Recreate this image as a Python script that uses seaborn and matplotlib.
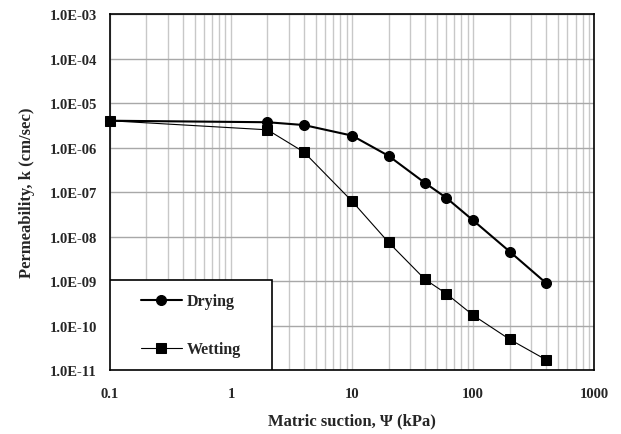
import numpy as np
import pandas as pd
import matplotlib
matplotlib.use("Agg")
import matplotlib.pyplot as plt
from matplotlib.ticker import FuncFormatter, LogLocator, NullLocator
from matplotlib.patches import Rectangle
import seaborn as sns

# Matric suction (kPa) and permeability (cm/sec) for drying and wetting paths
drying_suction = [0.1, 2, 4, 10, 20, 40, 60, 100, 200, 400]
drying_k = [4.0e-6, 3.7e-6, 3.2e-6, 1.85e-6, 6.5e-7, 1.6e-7, 7.4e-8, 2.3e-8, 4.6e-9, 9.0e-10]

wetting_suction = [0.1, 2, 4, 10, 20, 40, 60, 100, 200, 400]
wetting_k = [4.0e-6, 2.5e-6, 7.9e-7, 6.2e-8, 7.4e-9, 1.09e-9, 5.2e-10, 1.7e-10, 4.9e-11, 1.7e-11]

series_names = ["Drying", "Wetting"]
x_ticks = [0.1, 1, 10, 100, 1000]

sns.set_style("white")
plt.rcParams["font.family"] = ["Liberation Serif", "DejaVu Serif"]
plt.rcParams["font.weight"] = "bold"

df_dry = pd.DataFrame({"suction": drying_suction, "k": drying_k})
df_wet = pd.DataFrame({"suction": wetting_suction, "k": wetting_k})

fig, ax = plt.subplots(figsize=(6.21, 4.35), dpi=100)
fig.subplots_adjust(left=0.177, right=0.957, top=0.9655, bottom=0.147)

ax.set_xscale("log")
ax.set_yscale("log")

sns.lineplot(data=df_dry, x="suction", y="k", ax=ax, color="black",
             linewidth=1.5, marker="o", markersize=7.2, markeredgecolor="black",
             label=series_names[0], sort=False, estimator=None, zorder=6,
             clip_on=False)
sns.lineplot(data=df_wet, x="suction", y="k", ax=ax, color="black",
             linewidth=0.8, marker="s", markersize=7.6, markeredgecolor="black",
             label=series_names[1], sort=False, estimator=None, zorder=6,
             clip_on=False)

ax.set_xlim(0.1, 1000)
ax.set_ylim(1e-11, 1e-3)

ax.set_xticks(x_ticks)
ax.xaxis.set_minor_locator(LogLocator(base=10, subs=np.arange(2, 10), numticks=20))
ax.yaxis.set_major_locator(LogLocator(base=10, numticks=20))
ax.yaxis.set_minor_locator(NullLocator())

ax.xaxis.set_major_formatter(FuncFormatter(lambda v, p: f"{v:g}"))
ax.yaxis.set_major_formatter(FuncFormatter(lambda v, p: f"{v:.1E}"))

ax.grid(True, which="major", axis="y", color="#a8a8a8", linewidth=1.0)
ax.grid(True, which="major", axis="x", color="#c8c8c8", linewidth=1.0)
ax.grid(True, which="minor", axis="x", color="#c8c8c8", linewidth=1.0)
ax.set_axisbelow(True)

ax.tick_params(axis="both", which="both", length=0, labelsize=10.5)
ax.tick_params(axis="x", pad=12)
ax.tick_params(axis="y", pad=9.5)
for lab in ax.get_xticklabels() + ax.get_yticklabels():
    lab.set_fontweight("bold")

for sp in ax.spines.values():
    sp.set_color("black")
    sp.set_linewidth(1.2)

ax.set_xlabel("Matric suction, Ψ (kPa)", fontsize=12, fontweight="bold", labelpad=9)
ax.set_ylabel("Permeability, k (cm/sec)", fontsize=12, fontweight="bold", labelpad=10)

# Legend box in the lower-left corner of the plot area
box = Rectangle((0, 0), 0.334, 0.253, transform=ax.transAxes, facecolor="white",
                edgecolor="black", linewidth=1.2, zorder=4)
ax.add_patch(box)
leg = ax.legend(loc="center", bbox_to_anchor=(0.167, 0.126), frameon=False,
                handlelength=2.6, handletextpad=0.3, labelspacing=2.0,
                prop={"weight": "bold", "size": 11.5})
leg.set_zorder(7)

fig.savefig("out.png", dpi=100)
